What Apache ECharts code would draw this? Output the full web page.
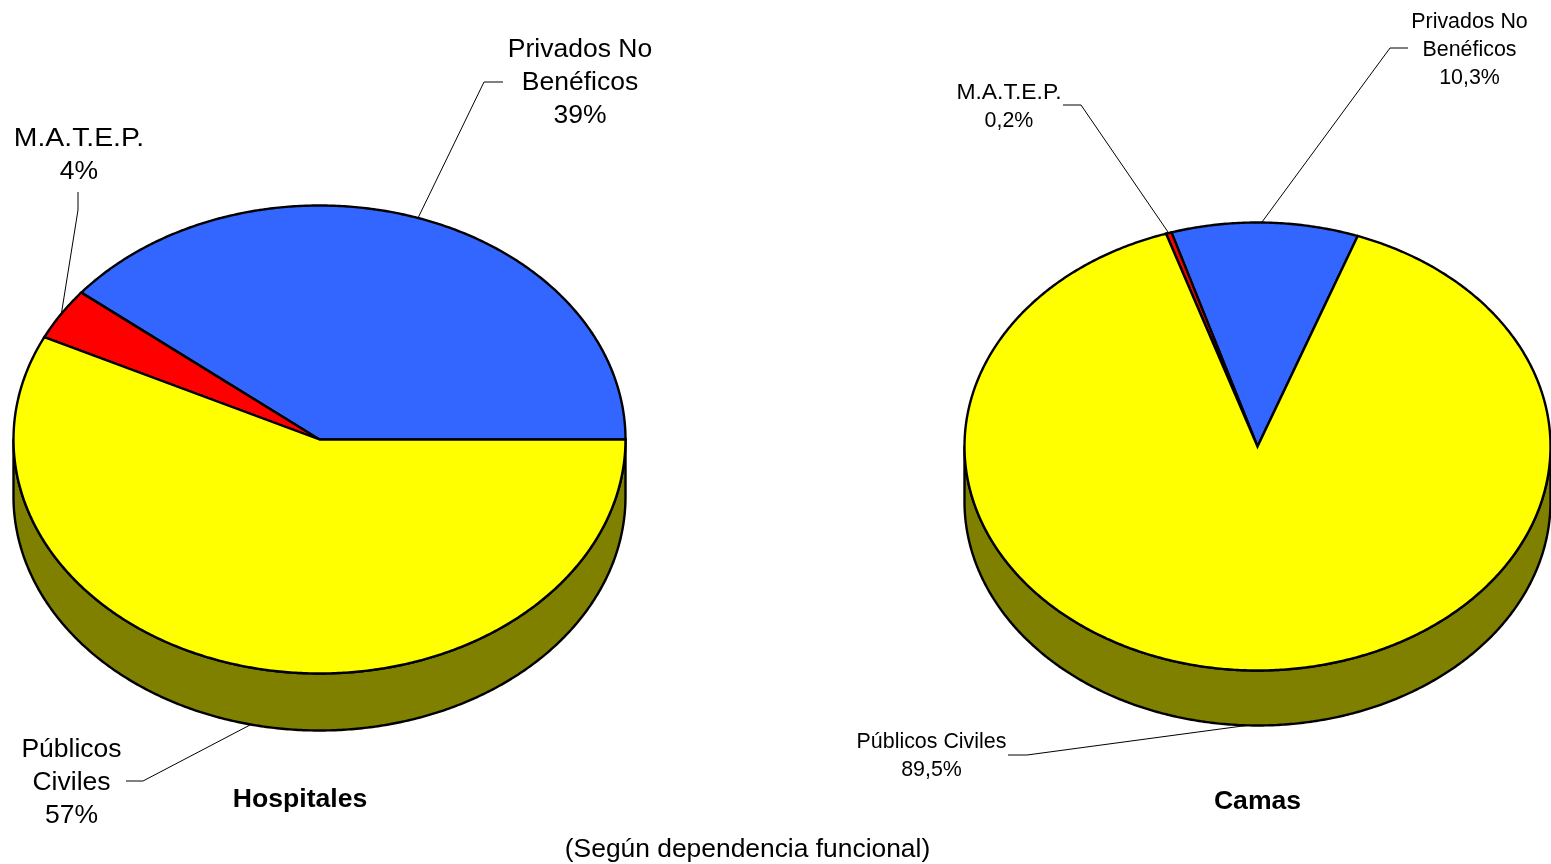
<!DOCTYPE html>
<html>
<head>
<meta charset="utf-8">
<script src="https://cdn.jsdelivr.net/npm/echarts@6/dist/echarts.min.js"></script>
<style>html,body{margin:0;padding:0;background:#fff}#c{width:1551px;height:864px}</style>
</head>
<body>
<div id="c"></div>
<script>
// ---- data ----
const categoryNames = ['Privados No\nBenéficos', 'M.A.T.E.P.', 'Públicos\nCiviles'];
const bedCategoryNames = ['Privados No\nBenéficos', 'M.A.T.E.P.', 'Públicos Civiles'];
const hospitalValues = [39.2, 3.6, 57.2];
const bedValues = [10.3, 0.2, 89.5];
const sliceColors = ['#3366ff', '#ff0000', '#ffff00'];
const chartTitles = ['Hospitales', 'Camas'];
const footnote = '(Según dependencia funcional)';

// ---- layout ----
const pieLayouts = [
  { cx: 319.5, cy: 439.5, rx: 306, ry: 234, depth: 57, start: 0, fontSize: 26.5, lineHeight: 33, digits: 0,
    title: { x: 300, y: 800 },
    labels: [{ x: 580, y: 83 }, { x: 79, y: 155.5 }, { x: 71.5, y: 783 }],
    leaders: [
      [[503, 82], [484, 82], [418, 218]],
      [[78, 192], [78, 210], [61, 316]],
      [[126, 781], [143, 781], [250, 725]]
    ] },
  { cx: 1257.5, cy: 446.5, rx: 293, ry: 224, depth: 55, start: 70, fontSize: 21.4, lineHeight: 28, digits: 1,
    title: { x: 1257.5, y: 802 },
    labels: [{ x: 1469.5, y: 50 }, { x: 1009, y: 107 }, { x: 931.5, y: 756 }],
    leaders: [
      [[1408, 48], [1390, 48], [1262, 222]],
      [[1063, 105], [1081, 105], [1168, 232]],
      [[1008, 755], [1027, 755], [1250, 725]]
    ] }
];
const minSliceAngle = 1.1;
const wideLabelScale = 1.07;

const rad = d => d * Math.PI / 180;
function edge(p, deg, dy) {
  return [p.cx + p.rx * Math.cos(rad(deg)), p.cy - p.ry * Math.sin(rad(deg)) + (dy || 0)];
}
function arc(p, a0, a1, dy) {
  const pts = [], n = Math.max(2, Math.ceil(Math.abs(a1 - a0) * 2));
  for (let i = 0; i <= n; i++) pts.push(edge(p, a0 + (a1 - a0) * i / n, dy));
  return pts;
}
// Slice spans; like a pie's minAngle, a very thin slice is widened so that it stays visible.
function spans(values, start) {
  const total = values.reduce((s, v) => s + v, 0);
  const angles = values.map(v => v / total * 360);
  const big = angles.indexOf(Math.max(...angles));
  angles.forEach((d, i) => {
    if (d < minSliceAngle) { angles[big] -= minSliceAngle - d; angles[i] = minSliceAngle; }
  });
  let a = start;
  return angles.map(d => { const r = [a, a + d]; a += d; return r; });
}
function formatPct(v, digits) { return v.toFixed(digits).replace('.', ',') + '%'; }

function wallSeries(values, p) {
  const sp = spans(values, p.start);
  return {
    type: 'custom', coordinateSystem: 'none', silent: true, z: 1, data: values,
    renderItem(params) {
      const a0 = Math.max(sp[params.dataIndex][0], 180), a1 = Math.min(sp[params.dataIndex][1], 360);
      if (a1 <= a0) return { type: 'group', children: [] };
      const points = arc(p, a0, a1, 0).concat(arc(p, a1, a0, p.depth));
      return { type: 'polygon', shape: { points },
        style: { fill: '#808000', stroke: '#000', lineWidth: 2.4, lineJoin: 'round' } };
    }
  };
}
function topSeries(values, p) {
  const sp = spans(values, p.start);
  return {
    type: 'custom', coordinateSystem: 'none', silent: true, z: 2, data: values,
    renderItem(params) {
      const [a0, a1] = sp[params.dataIndex];
      const points = [[p.cx, p.cy]].concat(arc(p, a0, a1, 0));
      return { type: 'polygon', shape: { points },
        style: { fill: sliceColors[params.dataIndex], stroke: '#000', lineWidth: 2.4, lineJoin: 'miter' } };
    }
  };
}

const font = '"Liberation Sans", Arial, sans-serif';
const graphics = [];
function addLabels(names, values, p) {
  names.forEach((name, i) => {
    const lines = (name + '\n' + formatPct(values[i], p.digits)).split('\n');
    lines.forEach((line, k) => {
      graphics.push({ type: 'text', x: p.labels[i].x,
        y: p.labels[i].y + (k - (lines.length - 1) / 2) * p.lineHeight, z: 5, silent: true,
        scaleX: line === 'M.A.T.E.P.' ? wideLabelScale : 1,
        style: { text: line, fill: '#000', font: p.fontSize + 'px ' + font,
          align: 'center', verticalAlign: 'middle' } });
    });
    graphics.push({ type: 'polyline', z: 0, silent: true, shape: { points: p.leaders[i] },
      style: { stroke: '#000', lineWidth: 1, fill: null } });
  });
}
addLabels(categoryNames, hospitalValues, pieLayouts[0]);
addLabels(bedCategoryNames, bedValues, pieLayouts[1]);
chartTitles.forEach((t, i) => {
  graphics.push({ type: 'text', x: pieLayouts[i].title.x, y: pieLayouts[i].title.y, silent: true,
    style: { text: t, fill: '#000', font: 'bold 26.6px ' + font, align: 'center', verticalAlign: 'middle' } });
});
graphics.push({ type: 'text', x: 747.5, y: 850, silent: true,
  style: { text: footnote, fill: '#000', font: '26.4px ' + font, align: 'center', verticalAlign: 'middle' } });

const chart = echarts.init(document.getElementById('c'), null, { renderer: 'canvas' });
chart.setOption({
  backgroundColor: '#fff',
  animation: false,
  graphic: { elements: graphics },
  series: [
    wallSeries(hospitalValues, pieLayouts[0]),
    topSeries(hospitalValues, pieLayouts[0]),
    wallSeries(bedValues, pieLayouts[1]),
    topSeries(bedValues, pieLayouts[1])
  ]
});
</script>
</body>
</html>
